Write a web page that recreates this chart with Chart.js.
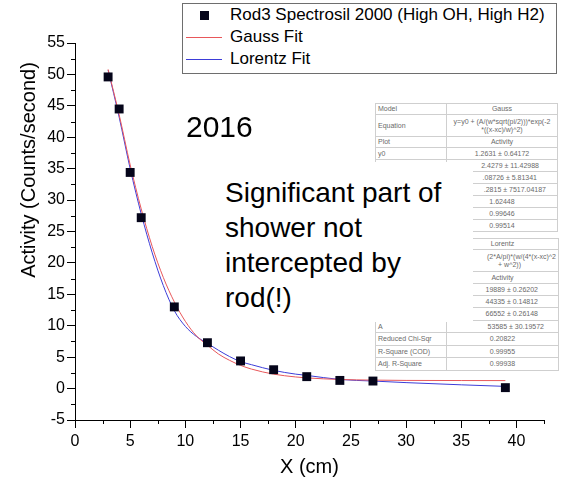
<!DOCTYPE html>
<html>
<head>
<meta charset="utf-8">
<script src="https://cdn.jsdelivr.net/npm/chart.js@4.4.1/dist/chart.umd.min.js"></script>
<style>
  body { margin: 0; background: #fff; font-family: "Liberation Sans", Arial, sans-serif; }
  #wrap { position: relative; width: 561px; height: 477px; overflow: hidden; }
  #chart { position: absolute; left: 0; top: 0; }

  .legend { position: absolute; left: 182px; top: 3px; width: 373px; height: 69px;
            border: 1px solid #6e6e6e; background: #fff; }
  .legend .row { position: absolute; left: 47px; height: 20px; line-height: 20px;
                 font-size: 17px; color: #000; white-space: nowrap; }
  .legend .sq { position: absolute; left: 17px; width: 9px; height: 9px; background: #05051a; }
  .legend .ln { position: absolute; left: 3px; width: 36px; height: 1px; }

  .year { position: absolute; left: 186px; top: 112px; font-size: 30px; line-height: 30px; color: #000; }

  .fit { position: absolute; border-collapse: collapse; table-layout: fixed;
         font-size: 7px; color: #6a6a6a; background: #fff; }
  .fit td { border: 1px solid #cfcfcf; padding: 0 2px; line-height: 8px; overflow: hidden;
            white-space: nowrap; }
  .fit td.v { text-align: center; }
  .fit td.r { text-align: right; }
  #gauss { left: 375px; top: 103px; width: 182px; }
  #lorentz { left: 375px; top: 238px; width: 183px; }

  .note { position: absolute; left: 215px; top: 162px; width: 258px; height: 160px; background: #fff; }
  .note div { position: absolute; left: 10px; top: 13px; font-size: 28px; line-height: 35px;
              color: #000; white-space: nowrap; }
</style>
</head>
<body>
<div id="wrap">
  <canvas id="chart" width="561" height="477"></canvas>

  <table class="fit" id="gauss">
    <colgroup><col style="width:71px"><col style="width:111px"></colgroup>
    <tr style="height:11px"><td>Model</td><td class="v">Gauss</td></tr>
    <tr style="height:22px"><td>Equation</td><td class="v">y=y0 + (A/(w*sqrt(pi/2)))*exp(-2<br>*((x-xc)/w)^2)</td></tr>
    <tr style="height:11px"><td>Plot</td><td class="v">Activity</td></tr>
    <tr style="height:12px"><td>y0</td><td class="v">1.2631 ± 0.64172</td></tr>
    <tr style="height:12px"><td>xc</td><td class="r" style="padding-right:18px">2.4279 ± 11.42988</td></tr>
    <tr style="height:12px"><td>w</td><td class="r" style="padding-right:20px">.08726 ± 5.81341</td></tr>
    <tr style="height:12px"><td>A</td><td class="r" style="padding-right:11px">.2815 ± 7517.04187</td></tr>
    <tr style="height:12px"><td>Reduced Chi-Sqr</td><td class="v">1.62448</td></tr>
    <tr style="height:12px"><td>R-Square (COD)</td><td class="v">0.99646</td></tr>
    <tr style="height:12px"><td>Adj. R-Square</td><td class="v">0.99514</td></tr>
  </table>

  <table class="fit" id="lorentz">
    <colgroup><col style="width:71px"><col style="width:112px"></colgroup>
    <tr style="height:11px"><td>Model</td><td class="v">Lorentz</td></tr>
    <tr style="height:22px"><td>Equation</td><td class="r">(2*A/pi)*(w/(4*(x-xc)^2<br><span style="padding-right:35px">+ w^2))</span></td></tr>
    <tr style="height:12px"><td>Plot</td><td class="v">Activity</td></tr>
    <tr style="height:12px"><td>y0</td><td class="r" style="padding-right:20px">19889 ± 0.26202</td></tr>
    <tr style="height:12px"><td>xc</td><td class="r" style="padding-right:20px">44335 ± 0.14812</td></tr>
    <tr style="height:13px"><td>w</td><td class="r" style="padding-right:20px">66552 ± 0.26148</td></tr>
    <tr style="height:12px"><td>A</td><td class="r" style="padding-right:14px">53585 ± 30.19572</td></tr>
    <tr style="height:13px"><td>Reduced Chi-Sqr</td><td class="v">0.20822</td></tr>
    <tr style="height:12px"><td>R-Square (COD)</td><td class="v">0.99955</td></tr>
    <tr style="height:13px"><td>Adj. R-Square</td><td class="v">0.99938</td></tr>
  </table>

  <div class="note">
    <div>Significant part of<br>shower not<br>intercepted by<br>rod(!)</div>
  </div>

  <div class="year">2016</div>

  <div class="legend">
    <span class="sq" style="top:7px"></span>
    <span class="row" style="top:1px">Rod3 Spectrosil 2000 (High OH, High H2)</span>
    <span class="ln" style="top:33px; background:#e8575a"></span>
    <span class="row" style="top:23px">Gauss Fit</span>
    <span class="ln" style="top:55px; background:#3d3dd8"></span>
    <span class="row" style="top:45px">Lorentz Fit</span>
  </div>
</div>

<script>
// measured activity vs distance
const distance = [3, 4, 5, 6, 9, 12, 15, 18, 21, 24, 27, 39];
const activity = [49.6, 44.5, 34.4, 27.2, 13.0, 7.3, 4.4, 3.0, 1.9, 1.3, 1.2, 0.15];

// fitted curves, sampled along x
const fitX       = [3, 4, 5, 6, 7, 8, 9, 10, 11, 12, 13, 14, 15, 16, 18, 20, 21, 24, 27, 30, 35, 39];
const gaussFit   = [50.8, 43.6, 35.6, 28.6, 22.6, 17.7, 13.8, 10.7, 8.4, 6.9, 5.5, 4.5, 3.7, 3.1, 2.3, 1.85, 1.7, 1.45, 1.35, 1.3, 1.28, 1.27];
const lorentzFit = [50.7, 43.2, 35.0, 27.8, 21.6, 16.4, 12.4, 9.9, 8.3, 7.2, 6.1, 5.1, 4.3, 3.8, 2.9, 2.3, 2.1, 1.45, 1.2, 0.95, 0.6, 0.35];

const FONT = '"Liberation Sans", Arial, sans-serif';

const toPoints = (xs, ys) => xs.map((x, i) => ({ x: x, y: ys[i] }));

// minor ticks between the labelled ones + rotated y title
const axisExtras = {
  id: 'axisExtras',
  afterDraw(chart) {
    const { ctx, scales: { x, y } } = chart;
    ctx.save();
    ctx.strokeStyle = '#000';
    ctx.lineWidth = 1;
    ctx.beginPath();
    for (let v = x.min + 2.5; v <= x.max + 0.01; v += 5) {
      const px = Math.round(x.getPixelForValue(v)) + 0.5;
      ctx.moveTo(px, y.bottom);
      ctx.lineTo(px, y.bottom + 4);
    }
    for (let v = y.min + 2.5; v < y.max; v += 5) {
      const py = Math.round(y.getPixelForValue(v)) + 0.5;
      ctx.moveTo(x.left, py);
      ctx.lineTo(x.left - 4, py);
    }
    ctx.stroke();

    ctx.translate(29, 170);
    ctx.rotate(-Math.PI / 2);
    ctx.fillStyle = '#000';
    ctx.font = '20px ' + FONT;
    ctx.textAlign = 'center';
    ctx.textBaseline = 'middle';
    ctx.fillText('Activity (Counts/second)', 0, 0);
    ctx.restore();
  }
};

const axisStyle = {
  grid: { drawOnChartArea: false, drawTicks: true, tickLength: 8, color: '#000', tickColor: '#000' },
  border: { display: true, color: '#000', width: 1 }
};

new Chart(document.getElementById('chart').getContext('2d'), {
  type: 'scatter',
  data: {
    datasets: [
      {
        label: 'Rod3 Spectrosil 2000 (High OH, High H2)',
        data: toPoints(distance, activity),
        showLine: false,
        pointStyle: 'rect',
        pointRadius: 6.3,
        backgroundColor: '#05051a',
        borderColor: '#05051a',
        borderWidth: 0
      },
      {
        label: 'Gauss Fit',
        data: toPoints(fitX, gaussFit),
        showLine: true,
        pointRadius: 0,
        borderColor: '#e8575a',
        borderWidth: 1,
        cubicInterpolationMode: 'monotone'
      },
      {
        label: 'Lorentz Fit',
        data: toPoints(fitX, lorentzFit),
        showLine: true,
        pointRadius: 0,
        borderColor: '#3d3dd8',
        borderWidth: 1,
        cubicInterpolationMode: 'monotone'
      }
    ]
  },
  options: {
    responsive: false,
    animation: false,
    devicePixelRatio: 1,
    layout: { padding: { top: 43, right: 17, left: 0, bottom: 0 } },
    plugins: { legend: { display: false }, tooltip: { enabled: false } },
    scales: {
      x: {
        type: 'linear',
        min: 0,
        max: 42.5,
        afterFit: s => { s.height = 57; },
        ticks: { stepSize: 5, includeBounds: false, color: '#000', padding: 4, maxRotation: 0,
                 font: { size: 16, family: FONT } },
        title: { display: true, text: 'X (cm)', color: '#000', padding: 0,
                 font: { size: 20, family: FONT, lineHeight: 1 } },
        ...axisStyle
      },
      y: {
        type: 'linear',
        min: -5,
        max: 55,
        afterFit: s => { s.width = 75; },
        ticks: { stepSize: 5, color: '#000', padding: 2, font: { size: 16, family: FONT } },
        ...axisStyle
      }
    }
  },
  plugins: [axisExtras]
});
</script>
</body>
</html>
